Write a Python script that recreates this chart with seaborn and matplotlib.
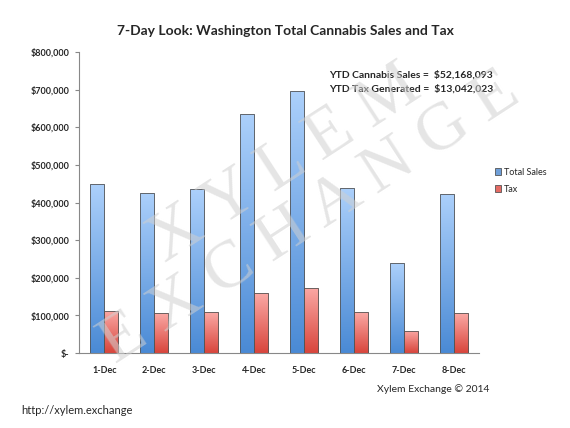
import numpy as np
import pandas as pd
import seaborn as sns
import matplotlib.pyplot as plt
from matplotlib.colors import LinearSegmentedColormap
from matplotlib.patches import Patch

# data
days = ['1-Dec', '2-Dec', '3-Dec', '4-Dec', '5-Dec', '6-Dec', '7-Dec', '8-Dec']
total_sales = [449000, 427000, 436000, 636000, 697000, 439000, 239000, 423000]
tax = [112000, 106000, 108000, 159000, 174000, 109000, 60000, 106000]
yticks = [0, 100000, 200000, 300000, 400000, 500000, 600000, 700000, 800000]
ytick_labels = ['$-', '$100,000', '$200,000', '$300,000', '$400,000',
                '$500,000', '$600,000', '$700,000', '$800,000']

df = pd.DataFrame({'day': days * 2,
                   'value': total_sales + tax,
                   'series': ['Total Sales'] * 8 + ['Tax'] * 8})

sns.set_style('white')
plt.rcParams['font.family'] = ['Lato', 'DejaVu Sans']

fig = plt.figure(figsize=(5.7, 4.28), dpi=100)
ax = fig.add_axes([0.139, 0.175, 0.701, 0.703])

sns.barplot(x='day', y='value', hue='series', data=df, ax=ax, width=0.57,
            palette={'Total Sales': '#7aaeea', 'Tax': '#ee7d76'},
            edgecolor='#555555', linewidth=0.6, legend=False)

# vertical gradient fill inside each bar
grads = {0: LinearSegmentedColormap.from_list('b', ['#4a8ad5', '#acd0fb']),
         1: LinearSegmentedColormap.from_list('r', ['#d8453c', '#fba9a5'])}
grad = np.linspace(0, 1, 256).reshape(-1, 1)
for i, cont in enumerate(ax.containers):
    for p in cont.patches:
        x0, y0 = p.get_x(), p.get_y()
        w, h = p.get_width(), p.get_height()
        im = ax.imshow(grad, cmap=grads[i], origin='lower', aspect='auto',
                       extent=[x0, x0 + w, y0, y0 + h], zorder=p.get_zorder())
        im.set_clip_path(p)
        p.set_facecolor('none')
        p.set_zorder(p.get_zorder() + 0.1)

ax.set_xlim(-0.5, 7.5)
ax.set_ylim(0, 800000)
ax.set_yticks(yticks)
ax.set_yticklabels(ytick_labels, fontsize=6.5, fontweight='bold')
ax.set_xticks(range(8))
ax.set_xticklabels(days, fontsize=6.5, fontweight='bold')
ax.set_xticks(np.arange(-0.5, 8, 1), minor=True)
ax.tick_params(axis='x', which='major', length=0, pad=9)
ax.tick_params(axis='x', which='minor', length=3, color='#888888', direction='out')
ax.tick_params(axis='y', length=3, color='#888888', direction='out', pad=4, left=True)
ax.set_xlabel('')
ax.set_ylabel('')
sns.despine(ax=ax)
for s in ['left', 'bottom']:
    ax.spines[s].set_color('#888888')
    ax.spines[s].set_linewidth(0.8)

# legend
handles = [Patch(facecolor='#6f9fd8', edgecolor='#555555', lw=0.6),
           Patch(facecolor='#e56b64', edgecolor='#555555', lw=0.6)]
fig.legend(handles, ['Total Sales', 'Tax'], loc='upper left',
           bbox_to_anchor=(0.862, 0.617), frameon=False, fontsize=6.5,
           handlelength=0.7, handleheight=0.7, handletextpad=0.3,
           labelspacing=0.9, borderaxespad=0)

fig.text(0.5, 0.928, '7-Day Look: Washington Total Cannabis Sales and Tax',
         ha='center', va='center', fontsize=10, fontweight='bold')
fig.text(0.578, 0.824, 'YTD Cannabis Sales =  $52,168,093', fontsize=7.5,
         fontweight='bold', va='center')
fig.text(0.578, 0.792, 'YTD Tax Generated =  $13,042,023', fontsize=7.5,
         fontweight='bold', va='center')

# watermark (letter-spaced serif)
fig.text(0.50, 0.615, 'X Y L E M', fontsize=50, family='Liberation Serif',
         color='#d0d0d0', alpha=0.55, rotation=33, ha='center', va='center',
         zorder=10)
fig.text(0.545, 0.49, 'E X C H A N G E', fontsize=49, family='Liberation Serif',
         color='#d0d0d0', alpha=0.55, rotation=33, ha='center', va='center',
         zorder=10)

fig.text(0.858, 0.091, 'Xylem Exchange \u00a9 2014', fontsize=7.5, ha='right',
         va='center')
fig.text(0.038, 0.042, 'http://xylem.exchange', fontsize=8, va='center')

fig.savefig('out.png', dpi=100)
